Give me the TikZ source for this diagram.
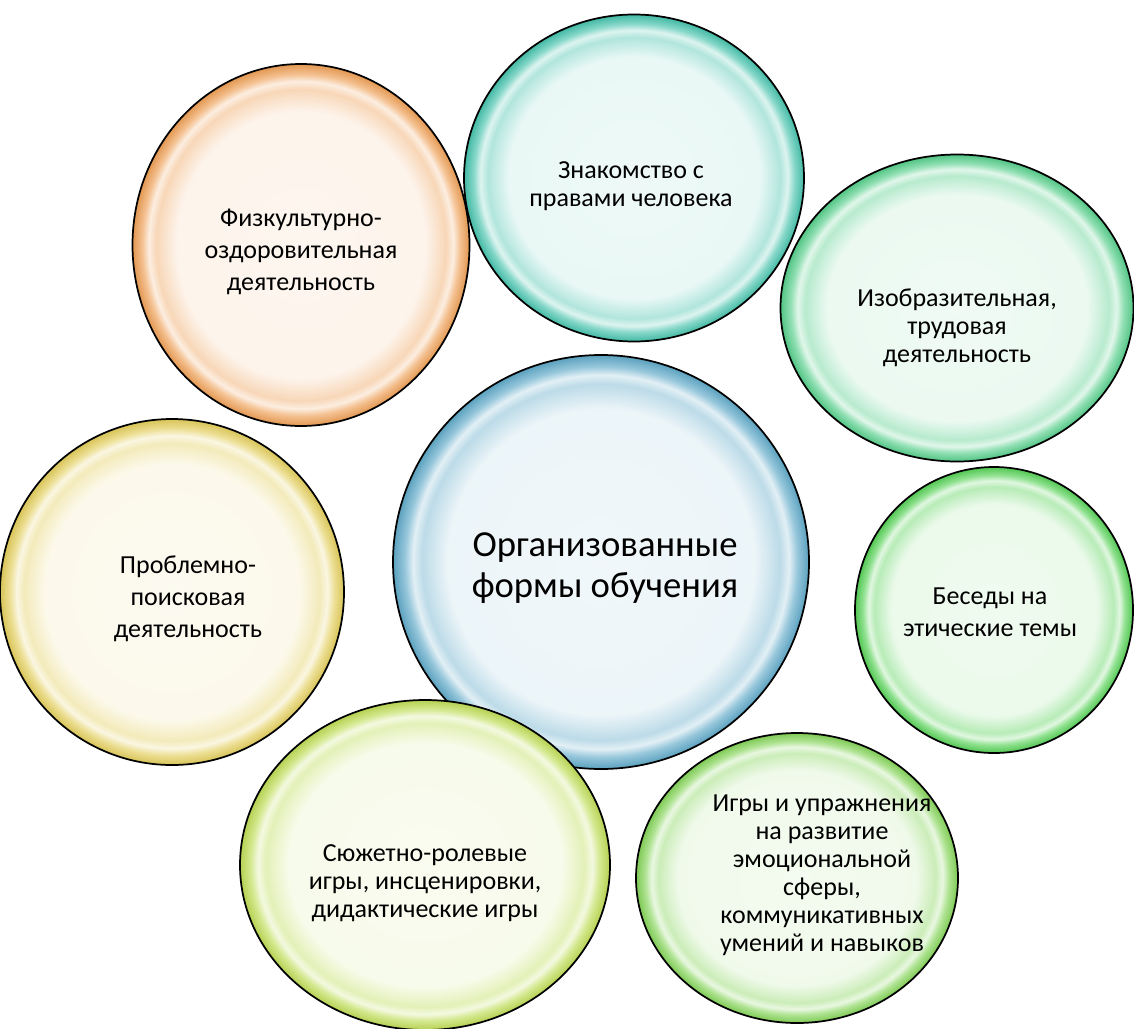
\documentclass[tikz,border=0pt]{standalone}
\usepackage{fontspec}
\setmainfont{Carlito}
\usepackage{tikz}
\usetikzlibrary{shapes.geometric}
\definecolor{peach}{HTML}{EE9F55}
\definecolor{teal}{HTML}{45C2AC}
\definecolor{mint}{HTML}{55CE8A}
\definecolor{sky}{HTML}{5FA9C8}
\definecolor{straw}{HTML}{E3CE5C}
\definecolor{leaf}{HTML}{55D155}
\definecolor{lime}{HTML}{BEDC55}
\definecolor{grass}{HTML}{84D458}
\colorlet{bubedge}{white}
% the middle 50bp square of the shading covers the node
\pgfdeclareradialshading[bubedge]{bubble}{\pgfpointorigin}{%
  color(0bp)=(bubedge!9!white); color(18.5bp)=(bubedge!12!white);
  color(21.5bp)=(bubedge!42!white); color(22.6bp)=(bubedge!18!white);
  color(23.6bp)=(bubedge!65!white); color(25bp)=(bubedge!95!black);
  color(50bp)=(bubedge!95!black)}

\begin{document}
\begin{tikzpicture}[x=0.75pt, y=-0.75pt,
  bubble/.style={ellipse, draw=black, line width=1.3pt, shading=bubble, inner sep=0pt},
  bcol/.code={\colorlet{bubedge}{#1}},
  sz/.style 2 args={minimum width=#1*0.75pt, minimum height=#2*0.75pt},
  btext/.style={align=center, font=\fontsize{19.5}{21}\selectfont},
  wide/.style={font=\fontsize{19.5}{24}\selectfont}
]
  \useasboundingbox (0,0) rectangle (1134,1028);

  % bubbles
  \node[bubble, bcol=peach, sz={337}{362}] (sport) at (301,245) {};
  \node[bubble, bcol=teal, sz={340}{327}] (rights) at (634,178) {};
  \node[bubble, bcol=mint, sz={353}{307}] (art) at (957,308) {};
  \node[bubble, bcol=sky, sz={416}{414}] (forms) at (601,562) {};
  \node[bubble, bcol=straw, sz={344}{346}] (search) at (172,592) {};
  \node[bubble, bcol=leaf, sz={278}{286}] (talks) at (994,610) {};
  \node[bubble, bcol=lime, sz={370}{330}] (plays) at (425,865) {};
  \node[bubble, bcol=grass, sz={322}{290}] (games) at (797,878) {};

  % texts
  \node[btext, wide] (sporttext) at (301,252)
    {Физкультурно-\\оздоровительная\\деятельность};
  \node[btext] (rightstext) at (631,186) {Знакомство с\\правами человека};
  \node[btext] (arttext) at (957,328)
    {Изобразительная,\\трудовая\\деятельность};
  \node[btext, font=\fontsize{27.5}{31}\selectfont] (formstext) at (605,568)
    {Организованные\\формы обучения};
  \node[btext, wide] (searchtext) at (188,599)
    {Проблемно-\\поисковая\\деятельность};
  \node[btext, wide] (talkstext) at (990,612) {Беседы на\\этические темы};
  \node[btext] (playstext) at (425,883)
    {Сюжетно-ролевые\\игры, инсценировки,\\дидактические игры};
  \node[btext] (gamestext) at (822,875)
    {Игры и упражнения\\на развитие\\эмоциональной\\сферы,\\коммуникативных\\умений и навыков};
\end{tikzpicture}
\end{document}
